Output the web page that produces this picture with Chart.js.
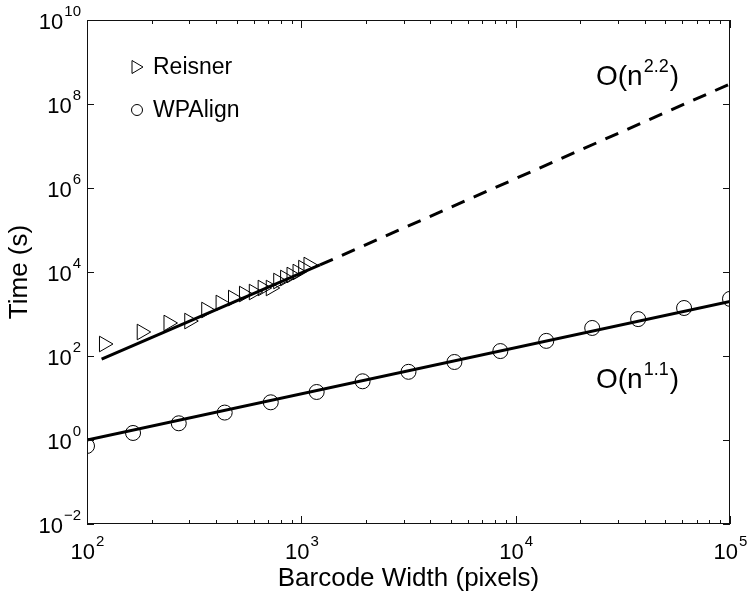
<!DOCTYPE html>
<html>
<head>
  <meta charset="UTF-8">
  <title>Barcode alignment time</title>
  <script src="https://cdn.jsdelivr.net/npm/chart.js"></script>
  <style>
    body { margin: 0; background: #fff; }
    #wrap { width: 750px; height: 597px; }
  </style>
</head>
<body>
  <div id="wrap"><canvas id="timeChart"></canvas></div>

  <script>
    // Reisner (triangles)
    const reisnerX = [120, 180, 240, 300, 360, 420, 480, 540, 600, 660, 720, 780, 840, 900, 960, 1020, 1080];
    const reisnerY = [193, 373, 611, 680, 1245, 1830, 2400, 2990, 3340, 4160, 4160, 6100, 7200, 8490, 10000, 12400, 14700];

    // WPAlign (circles)
    const wpX = [100, 164, 268, 439, 720, 1179, 1931, 3162, 5179, 8483, 13895, 22758, 37276, 61054, 100000];
    const wpY = [0.72, 1.47, 2.5, 4.5, 7.9, 13.9, 25, 42, 72, 131, 229, 465, 756, 1390, 2290];

    // fitted trends
    const fit22X = [117, 1222];
    const fit22Y = [84.4, 14700];
    const ext22X = [1222, 100000];
    const ext22Y = [14700, 3.0e8];
    const fit11X = [100, 100000];
    const fit11Y = [1, 1995];

    // axis ticks (exponents)
    const xMajor = [2, 3, 4, 5];
    const yMajor = [-2, 0, 2, 4, 6, 8, 10];

    const FONT = '"Liberation Sans", Arial, sans-serif';

    function pts(xs, ys) {
      return xs.map((x, i) => ({x: x, y: ys[i]}));
    }

    // draws "base^exp" with its base centred on y; align = 'center' | 'right' | 'left'
    function drawPow(ctx, base, exp, x, y, align, size, supSize, lift) {
      ctx.font = size + 'px ' + FONT;
      const wb = ctx.measureText(base).width;
      ctx.font = supSize + 'px ' + FONT;
      const we = ctx.measureText(exp).width;
      let sx = x;
      if (align === 'center') sx = x - (wb + we) / 2;
      if (align === 'right') sx = x - wb - we;
      ctx.textAlign = 'left';
      ctx.textBaseline = 'middle';
      ctx.font = size + 'px ' + FONT;
      ctx.fillText(base, sx, y);
      ctx.font = supSize + 'px ' + FONT;
      ctx.fillText(exp, sx + wb + 1, y - lift);
      return sx + wb + we + 2;
    }

    const decor = {
      id: 'decor',
      afterDraw(chart) {
        const ctx = chart.ctx;
        const a = chart.chartArea;
        const xs = chart.scales.x;
        const ys = chart.scales.y;
        ctx.save();
        ctx.strokeStyle = '#111';
        ctx.fillStyle = '#000';
        ctx.lineWidth = 1;

        // box
        ctx.strokeRect(a.left + 0.5, a.top + 0.5, a.right - a.left - 1, a.bottom - a.top - 1);

        // x ticks (inward, top and bottom), with minor ticks
        ctx.beginPath();
        for (let d = 2; d <= 5; d++) {
          for (let m = 1; m <= 9; m++) {
            const v = m * Math.pow(10, d);
            if (v > 100000) break;
            const px = Math.round(xs.getPixelForValue(v)) + 0.5;
            const len = m === 1 ? 8 : 4;
            ctx.moveTo(px, a.bottom);
            ctx.lineTo(px, a.bottom - len);
            ctx.moveTo(px, a.top);
            ctx.lineTo(px, a.top + len);
          }
        }
        // y ticks (inward, left and right)
        yMajor.forEach(e => {
          const py = Math.round(ys.getPixelForValue(Math.pow(10, e))) + 0.5;
          ctx.moveTo(a.left, py);
          ctx.lineTo(a.left + 7, py);
          ctx.moveTo(a.right, py);
          ctx.lineTo(a.right - 7, py);
        });
        ctx.stroke();

        // tick labels
        xMajor.forEach(e => {
          const px = xs.getPixelForValue(Math.pow(10, e));
          drawPow(ctx, '10', String(e), px, a.bottom + 29, 'center', 22, 15, 11);
        });
        yMajor.forEach(e => {
          const py = ys.getPixelForValue(Math.pow(10, e));
          drawPow(ctx, '10', e < 0 ? '\u2212' + (-e) : String(e), a.left - 7, py + 3, 'right', 22, 15, 11);
        });

        // axis titles
        ctx.font = '26px ' + FONT;
        ctx.textAlign = 'center';
        ctx.textBaseline = 'middle';
        ctx.fillText('Barcode Width (pixels)', (a.left + a.right) / 2, 579);
        ctx.save();
        ctx.translate(20, (a.top + a.bottom) / 2);
        ctx.rotate(-Math.PI / 2);
        ctx.fillText('Time (s)', 0, 0);
        ctx.restore();

        // legend
        ctx.lineWidth = 1;
        ctx.strokeStyle = '#000';
        ctx.beginPath();
        ctx.moveTo(143, 67);
        ctx.lineTo(132, 60.5);
        ctx.lineTo(132, 73.5);
        ctx.closePath();
        ctx.stroke();
        ctx.beginPath();
        ctx.arc(137, 110, 5.5, 0, Math.PI * 2);
        ctx.stroke();
        ctx.font = '23px ' + FONT;
        ctx.textAlign = 'left';
        ctx.textBaseline = 'middle';
        ctx.fillText('Reisner', 153, 68);
        ctx.fillText('WPAlign', 153, 111);

        // trend annotations
        let ex = drawPow(ctx, 'O(n', '2.2', 596, 77, 'left', 28, 18, 10);
        ctx.font = '28px ' + FONT;
        ctx.textBaseline = 'middle';
        ctx.fillText(')', ex, 77);
        ex = drawPow(ctx, 'O(n', '1.1', 596, 380, 'left', 28, 18, 10);
        ctx.font = '28px ' + FONT;
        ctx.textBaseline = 'middle';
        ctx.fillText(')', ex, 380);

        ctx.restore();
      }
    };

    new Chart(document.getElementById('timeChart'), {
      type: 'scatter',
      data: {
        datasets: [
          {
            label: 'fit 1.1',
            data: pts(fit11X, fit11Y),
            showLine: true,
            borderColor: '#000',
            borderWidth: 3,
            pointRadius: 0
          },
          {
            label: 'fit 2.2',
            data: pts(fit22X, fit22Y),
            showLine: true,
            borderColor: '#000',
            borderWidth: 3,
            pointRadius: 0
          },
          {
            label: 'extrapolation 2.2',
            data: pts(ext22X, ext22Y),
            showLine: true,
            borderColor: '#000',
            borderWidth: 3,
            borderDash: [14, 10],
            pointRadius: 0
          },
          {
            label: 'Reisner',
            data: pts(reisnerX, reisnerY),
            pointStyle: 'triangle',
            rotation: 90,
            pointRadius: 9,
            borderWidth: 1,
            borderColor: '#000',
            backgroundColor: 'rgba(0,0,0,0)'
          },
          {
            label: 'WPAlign',
            data: pts(wpX, wpY),
            pointStyle: 'circle',
            pointRadius: 7.5,
            borderWidth: 1,
            borderColor: '#000',
            backgroundColor: 'rgba(0,0,0,0)'
          }
        ]
      },
      options: {
        responsive: true,
        maintainAspectRatio: false,
        animation: false,
        layout: {
          padding: {left: 87, right: 20, top: 20, bottom: 73}
        },
        plugins: {
          legend: { display: false },
          tooltip: { enabled: false }
        },
        scales: {
          x: {
            type: 'logarithmic',
            min: 100,
            max: 100000,
            display: false
          },
          y: {
            type: 'logarithmic',
            min: 1e-2,
            max: 1e10,
            display: false
          }
        }
      },
      plugins: [decor]
    });
  </script>
</body>
</html>
